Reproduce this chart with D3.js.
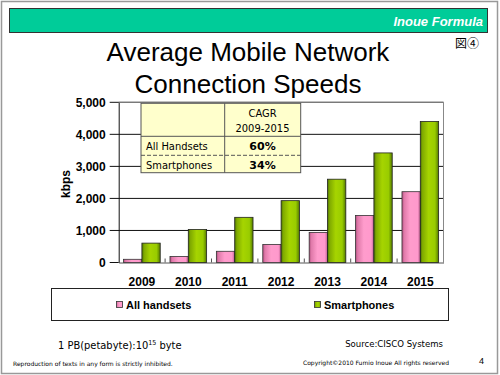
<!DOCTYPE html>
<html><head><meta charset="utf-8">
<script src="https://cdn.jsdelivr.net/npm/d3@7"></script>
<style>body{margin:0;background:#fff}svg{display:block}</style>
</head><body>
<script>
const years = ["2009","2010","2011","2012","2013","2014","2015"];
const allHandsets = [100, 190, 350, 565, 940, 1470, 2210];
const smartphones = [605, 1030, 1410, 1930, 2600, 3420, 4400];
const seriesNames = ["All handsets", "Smartphones"];
const yTicks = [0, 1000, 2000, 3000, 4000, 5000];
const cagrRows = [["All Handsets","60%"],["Smartphones","34%"]];

const W=500,H=375;
const svg=d3.select("body").append("svg").attr("width",W).attr("height",H);
const defs=svg.append("defs");
function grad(id,stops){const g=defs.append("linearGradient").attr("id",id).attr("x1","0").attr("x2","1").attr("y1","0").attr("y2","0");
 stops.forEach(s=>g.append("stop").attr("offset",s[0]).attr("stop-color",s[1]));}
grad("gPink",[[0,"#b0507f"],[0.12,"#e07aaa"],[0.45,"#ff9ccc"],[0.85,"#ff99cc"],[1,"#c06090"]]);
grad("gGreen",[[0,"#4d7300"],[0.12,"#80aa00"],[0.45,"#a6d400"],[0.8,"#99cc00"],[1,"#557a00"]]);

// page frame
svg.append("rect").attr("x",1.5).attr("y",1.5).attr("width",W-4).attr("height",H-3).attr("fill","none").attr("stroke","#999").attr("stroke-width",1.5);
// header band
svg.append("rect").attr("x",9.5).attr("y",8.5).attr("width",478).attr("height",24).attr("fill","#00cc99").attr("stroke","#333").attr("stroke-width",1);
svg.append("text").attr("x",483).attr("y",25.5).attr("text-anchor","end").attr("fill","#fff")
 .style("font","italic bold 13px 'Liberation Sans',Arial,sans-serif").text("Inoue Formula");
svg.append("text").attr("x",455).attr("y",48).style("font","12px 'Noto Sans CJK JP',sans-serif").attr("fill","#000").text("図④");

// title
const tf="26px 'Liberation Sans',Arial,sans-serif";
svg.append("text").attr("x",248).attr("y",61).attr("text-anchor","middle").style("font",tf).text("Average Mobile Network");
svg.append("text").attr("x",248).attr("y",93).attr("text-anchor","middle").style("font",tf).text("Connection Speeds");

// chart
const L=118.7,R=443.5,T=102.3,B=262.5;
const x=d3.scaleBand().domain(years).range([L,R]).paddingInner(0.21).paddingOuter(0.105);
const y=d3.scaleLinear().domain([0,5000]).range([B,T]);
const g=svg.append("g");
// grid
g.selectAll("line.grid").data(yTicks.slice(1)).join("line").attr("x1",L-9).attr("x2",R).attr("y1",d=>y(d)).attr("y2",d=>y(d)).attr("stroke","#111").attr("stroke-width",1);
g.append("line").attr("x1",L-9).attr("x2",L).attr("y1",y(0)).attr("y2",y(0)).attr("stroke","#111");
// plot border top/right
g.append("line").attr("x1",L).attr("x2",R).attr("y1",T).attr("y2",T).attr("stroke","#888");
g.append("line").attr("x1",R).attr("x2",R).attr("y1",T).attr("y2",B).attr("stroke","#888");
// y axis
const ya=g.append("g").attr("transform",`translate(${L},0)`).call(d3.axisLeft(y).tickValues(yTicks).tickSize(0).tickPadding(13).tickFormat(d3.format(",")));
ya.select(".domain").attr("stroke","#111");
ya.selectAll("text").style("font","bold 12px 'Liberation Sans',Arial,sans-serif").attr("fill","#000");
// x axis
const xa=g.append("g").attr("transform",`translate(0,${B})`).call(d3.axisBottom(x).tickSize(0).tickPadding(15));
xa.select(".domain").attr("stroke","#555");
xa.selectAll("text").style("font","bold 12px 'Liberation Sans',Arial,sans-serif").attr("fill","#000");
g.selectAll("line.xt").data(years.slice(1)).join("line").attr("x1",d=>x(d)-x.step()*x.paddingInner()/2).attr("x2",d=>x(d)-x.step()*x.paddingInner()/2)
 .attr("y1",B).attr("y2",B-4).attr("stroke","#555");
// bars
const bw=x.bandwidth()/2;
g.selectAll("rect.p").data(years).join("rect").attr("x",d=>x(d)).attr("y",(d,i)=>y(allHandsets[i])).attr("width",bw).attr("height",(d,i)=>B-y(allHandsets[i]))
 .attr("fill","url(#gPink)").attr("stroke","#333").attr("stroke-width",0.8);
g.selectAll("rect.s").data(years).join("rect").attr("x",d=>x(d)+bw).attr("y",(d,i)=>y(smartphones[i])).attr("width",bw).attr("height",(d,i)=>B-y(smartphones[i]))
 .attr("fill","url(#gGreen)").attr("stroke","#222").attr("stroke-width",0.8);
// kbps label
svg.append("text").attr("transform","translate(70,184) rotate(-90)").attr("text-anchor","middle").style("font","bold 12px 'Liberation Sans',Arial,sans-serif").text("kbps");

// CAGR table
const tb=svg.append("g");
const tx0=141,tx1=300.7,tc=224.7,ty0=103.3,ty1=136.3,ty2=155.3,ty3=172.7;
tb.append("rect").attr("x",tx0).attr("y",ty0).attr("width",tx1-tx0).attr("height",ty3-ty0).attr("fill","#ffffcc").attr("stroke","#555").attr("stroke-width",1);
tb.append("line").attr("x1",tc).attr("x2",tc).attr("y1",ty0).attr("y2",ty3).attr("stroke","#555");
tb.append("line").attr("x1",tx0).attr("x2",tx1).attr("y1",ty1).attr("y2",ty1).attr("stroke","#555");
tb.append("line").attr("x1",tx0).attr("x2",tx1).attr("y1",ty2).attr("y2",ty2).attr("stroke","#555").attr("stroke-dasharray","4,2");
const tfnt="11px 'DejaVu Sans Condensed','Liberation Sans',sans-serif";
tb.append("text").attr("x",262.5).attr("y",117).attr("text-anchor","middle").style("font",tfnt).text("CAGR");
tb.append("text").attr("x",262.5).attr("y",132).attr("text-anchor","middle").style("font",tfnt).text("2009-2015");
cagrRows.forEach((r,i)=>{const yy=[150,169][i];
 tb.append("text").attr("x",146).attr("y",yy).style("font",tfnt).text(r[0]);
 tb.append("text").attr("x",262.5).attr("y",yy).attr("text-anchor","middle").style("font","bold 11px 'DejaVu Sans','Liberation Sans',sans-serif").text(r[1]);
});

// legend
svg.append("rect").attr("x",51.5).attr("y",288.5).attr("width",397).attr("height",32).attr("fill","#fff").attr("stroke","#222");
const lg=[{x:116,fill:"url(#gPink)"},{x:314,fill:"url(#gGreen)"}];
lg.forEach((l,i)=>{
 svg.append("rect").attr("x",l.x+0.5).attr("y",301.5).attr("width",6).attr("height",6).attr("fill",l.fill).attr("stroke","#333").attr("stroke-width",0.8);
 svg.append("text").attr("x",l.x+10).attr("y",309).style("font","bold 11px 'Liberation Sans',Arial,sans-serif").text(seriesNames[i]);
});

// footer
const ff="11px 'DejaVu Sans Condensed','Liberation Sans',sans-serif";
const pb=svg.append("text").attr("x",58).attr("y",349).style("font",ff);
pb.append("tspan").text("1 PB(petabyte):10");
pb.append("tspan").attr("dy",-4).style("font-size","7px").text("15");
pb.append("tspan").attr("dy",4).text(" byte");
svg.append("text").attr("x",443).attr("y",347).attr("text-anchor","end").style("font","9.5px 'DejaVu Sans Condensed','Liberation Sans',sans-serif").text("Source:CISCO Systems");
svg.append("text").attr("x",13).attr("y",366).style("font","6px 'DejaVu Sans','Liberation Sans',sans-serif").text("Reproduction of texts in any form is strictly inhibited.");
svg.append("text").attr("x",449).attr("y",365).attr("text-anchor","end").style("font","6px 'DejaVu Sans','Liberation Sans',sans-serif").text("Copyright©2010 Fumio Inoue All rights reserved");
svg.append("text").attr("x",479).attr("y",364).style("font","9px 'Liberation Sans',sans-serif").text("4");
</script>
</body></html>
